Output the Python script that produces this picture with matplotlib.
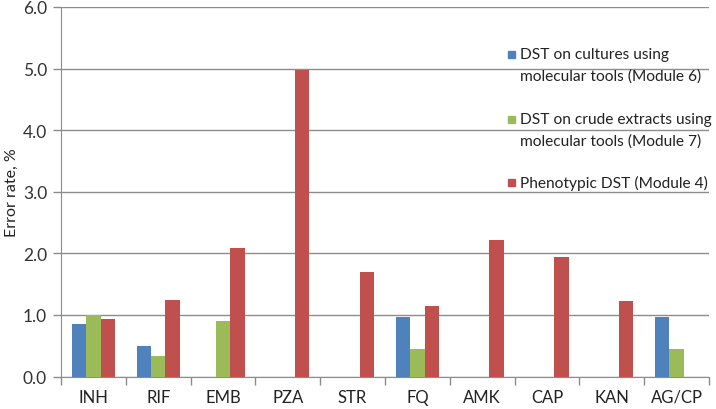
import numpy as np
import matplotlib
matplotlib.use("Agg")
import matplotlib.pyplot as plt
from matplotlib.patches import Rectangle

plt.rcParams['font.family'] = ['Lato', 'DejaVu Sans']

# data
drugs = ['INH', 'RIF', 'EMB', 'PZA', 'STR', 'FQ', 'AMK', 'CAP', 'KAN', 'AG/CP']
mod6 = [0.86, 0.49, 0, 0, 0, 0.96, 0, 0, 0, 0.96]
mod7 = [1.00, 0.33, 0.90, 0, 0, 0.44, 0, 0, 0, 0.44]
mod4 = [0.93, 1.24, 2.08, 4.98, 1.70, 1.15, 2.22, 1.94, 1.22, 0]
labels = ['DST on cultures using\nmolecular tools (Module 6)',
          'DST on crude extracts using\nmolecular tools (Module 7)',
          'Phenotypic DST (Module 4)']
colors = ['#4F81BD', '#9BBB59', '#C0504D']

W, H = 716, 410
fig = plt.figure(figsize=(W/100, H/100), dpi=100)
ax = fig.add_axes([61/W, 1-377.5/H, (709-61)/W, (377.5-8)/H])

x = np.arange(len(drugs))
bw = 0.222
for i, vals in enumerate([mod6, mod7, mod4]):
    v = np.array(vals, dtype=float)
    ax.bar(x + (i-1)*bw, v, bw, color=colors[i], zorder=3)

ax.set_xlim(-0.5, len(drugs)-0.5)
ax.set_ylim(0, 6)
ax.set_yticks(np.arange(0, 6.1, 1.0))
ax.set_yticklabels(['%.1f' % t for t in np.arange(0, 6.1, 1.0)], fontsize=12.5, color='#333333')
ax.set_xticks(x)
ax.set_xticklabels(drugs, fontsize=12, color='#222222')
ax.set_xticks(np.arange(-0.5, len(drugs), 1.0), minor=True)
ax.tick_params(axis='x', which='major', length=0, pad=9)
ax.tick_params(axis='x', which='minor', length=6, color='#8c8c8c', width=1)
ax.tick_params(axis='y', length=6, color='#8c8c8c', width=1, pad=4)
ax.grid(axis='y', color='#8c8c8c', linewidth=1, zorder=0)
for s in ['top', 'right']:
    ax.spines[s].set_visible(False)
for s in ['left', 'bottom']:
    ax.spines[s].set_color('#8c8c8c')
ax.set_ylabel('Error rate, %', fontsize=11.5, color='#222222', labelpad=3)

# legend, drawn by hand so the marker sits on the first line
ys = [55, 120, 183]
for lab, c, y0 in zip(labels, colors, ys):
    fig.add_artist(Rectangle((508/W, 1-(y0+3.5)/H), 7/W, 7/H, color=c, transform=fig.transFigure))
    for k, line in enumerate(lab.split('\n')):
        fig.text(520/W, 1-(y0+22*k)/H, line, fontsize=11.2, color='#222222', va='center', ha='left')

fig.savefig('out.png', dpi=100)
